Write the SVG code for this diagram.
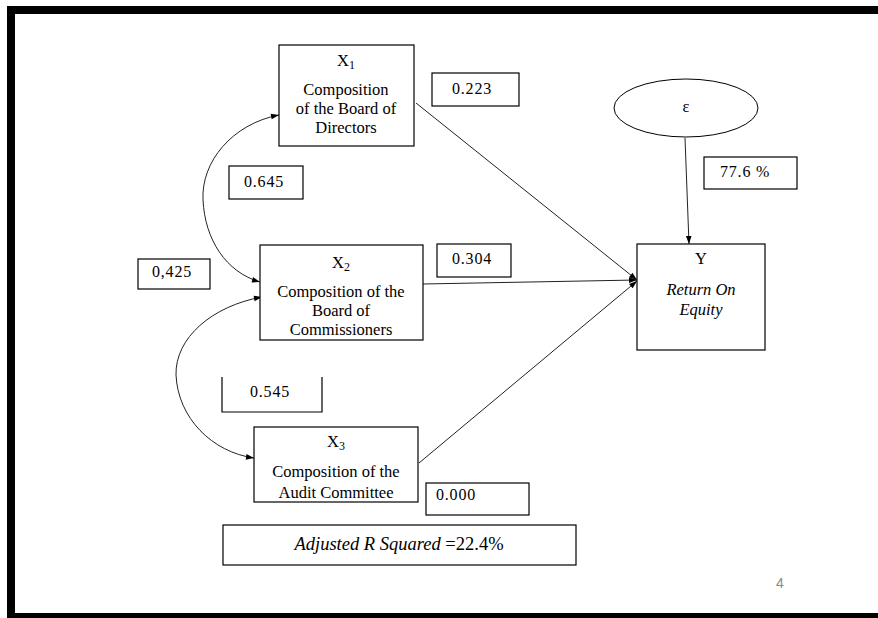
<svg xmlns="http://www.w3.org/2000/svg" width="878" height="618" viewBox="0 0 878 618">
<style>
.box{fill:#fff;stroke:#000;stroke-width:1.2}
.t{font-family:"Liberation Serif","Times New Roman",serif;font-size:16.5px;fill:#000;text-anchor:middle}
.n{font-family:"Liberation Serif","Times New Roman",serif;font-size:16px;fill:#000;letter-spacing:0.8px}
.i{font-style:italic}
.ln{fill:none;stroke:#222;stroke-width:1}
</style>
<defs>
<marker id="ah" viewBox="0 0 10 10" refX="10" refY="5" markerWidth="9" markerHeight="8" markerUnits="userSpaceOnUse" orient="auto-start-reverse">
<path d="M0,1.5 L10,5 L0,8.5 Z" fill="#000"/>
</marker>
<clipPath id="cx3"><rect x="254" y="427" width="164" height="73"/></clipPath>
</defs>
<rect x="0" y="0" width="878" height="618" fill="#fff"/>
<g id="frame">
<rect x="7" y="6" width="871" height="8" fill="#000"/>
<rect x="7" y="6" width="8" height="612" fill="#000"/>
<rect x="7" y="613" width="871" height="5" fill="#000"/>
</g>
<g id="connectors">
<path class="ln" d="M416,103 L637,280" marker-end="url(#ah)"/>
<path class="ln" d="M423,284 L637,280" stroke-width="1.5" marker-end="url(#ah)"/>
<path class="ln" d="M419,463 L637,281" marker-end="url(#ah)"/>
<path class="ln" d="M685,138 L689,244" marker-end="url(#ah)"/>
<path class="ln" d="M279,115 C232,124 201,162 203,200 C205,240 226,272 260,282" marker-start="url(#ah)" marker-end="url(#ah)"/>
<path class="ln" d="M262,297 C212,306 175,338 176,375 C178,418 212,452 254,458" marker-start="url(#ah)" marker-end="url(#ah)"/>
</g>
<g id="x1">
<rect class="box" x="279" y="45" width="135" height="101"/>
<text class="t" x="346" y="66">X<tspan font-size="12" dy="3">1</tspan></text>
<text class="t" x="346" y="95">Composition</text>
<text class="t" x="346" y="114">of the Board of</text>
<text class="t" x="346" y="133">Directors</text>
</g>
<g id="x2">
<rect class="box" x="260" y="245" width="163" height="95"/>
<text class="t" x="341" y="268">X<tspan font-size="12" dy="3">2</tspan></text>
<text class="t" x="341" y="297">Composition of the</text>
<text class="t" x="341" y="316">Board of</text>
<text class="t" x="341" y="335">Commissioners</text>
</g>
<g id="x3">
<rect class="box" x="254" y="427" width="164" height="75"/>
<text class="t" x="336" y="447">X<tspan font-size="12" dy="3">3</tspan></text>
<text class="t" x="336" y="477">Composition of the</text>
<text class="t" x="336" y="498" clip-path="url(#cx3)">Audit Committee</text>
</g>
<g id="y">
<rect class="box" x="637" y="244" width="128" height="106"/>
<text class="t" x="701" y="264">Y</text>
<text class="t i" x="701" y="295">Return On</text>
<text class="t i" x="701" y="315">Equity</text>
</g>
<g id="epsilon">
<ellipse cx="686" cy="108" rx="72" ry="29" fill="#fff" stroke="#000" stroke-width="1"/>
<text class="t" x="686" y="112">ε</text>
</g>
<g id="l0223"><rect class="box" x="432" y="73" width="87" height="33"/><text class="n" x="452" y="94">0.223</text></g>
<g id="l0776"><rect class="box" x="704" y="157" width="93" height="32"/><text class="n" x="720" y="177">77.6 %</text></g>
<g id="l0645"><rect class="box" x="229" y="166" width="74" height="33"/><text class="n" x="244" y="187">0.645</text></g>
<g id="l0425"><rect class="box" x="138" y="259" width="72" height="30"/><text class="n" x="152" y="277">0,425</text></g>
<g id="l0304"><rect class="box" x="437" y="244" width="74" height="33"/><text class="n" x="452" y="264">0.304</text></g>
<g id="l0545"><path d="M222,377 V412 H322 V377" fill="none" stroke="#000" stroke-width="1.2"/><text class="n" x="250" y="397">0.545</text></g>
<g id="l0000"><rect class="box" x="426" y="483" width="103" height="32"/><text class="n" x="436" y="500">0.000</text></g>
<g id="adjr"><rect class="box" x="223" y="525" width="353" height="40"/><text class="t" x="399" y="550" style="font-size:18.5px"><tspan class="i">Adjusted R Squared</tspan> =22.4%</text></g>
<text x="776" y="588" font-family="Liberation Sans, Arial, sans-serif" font-size="14" fill="#888">4</text>
</svg>
